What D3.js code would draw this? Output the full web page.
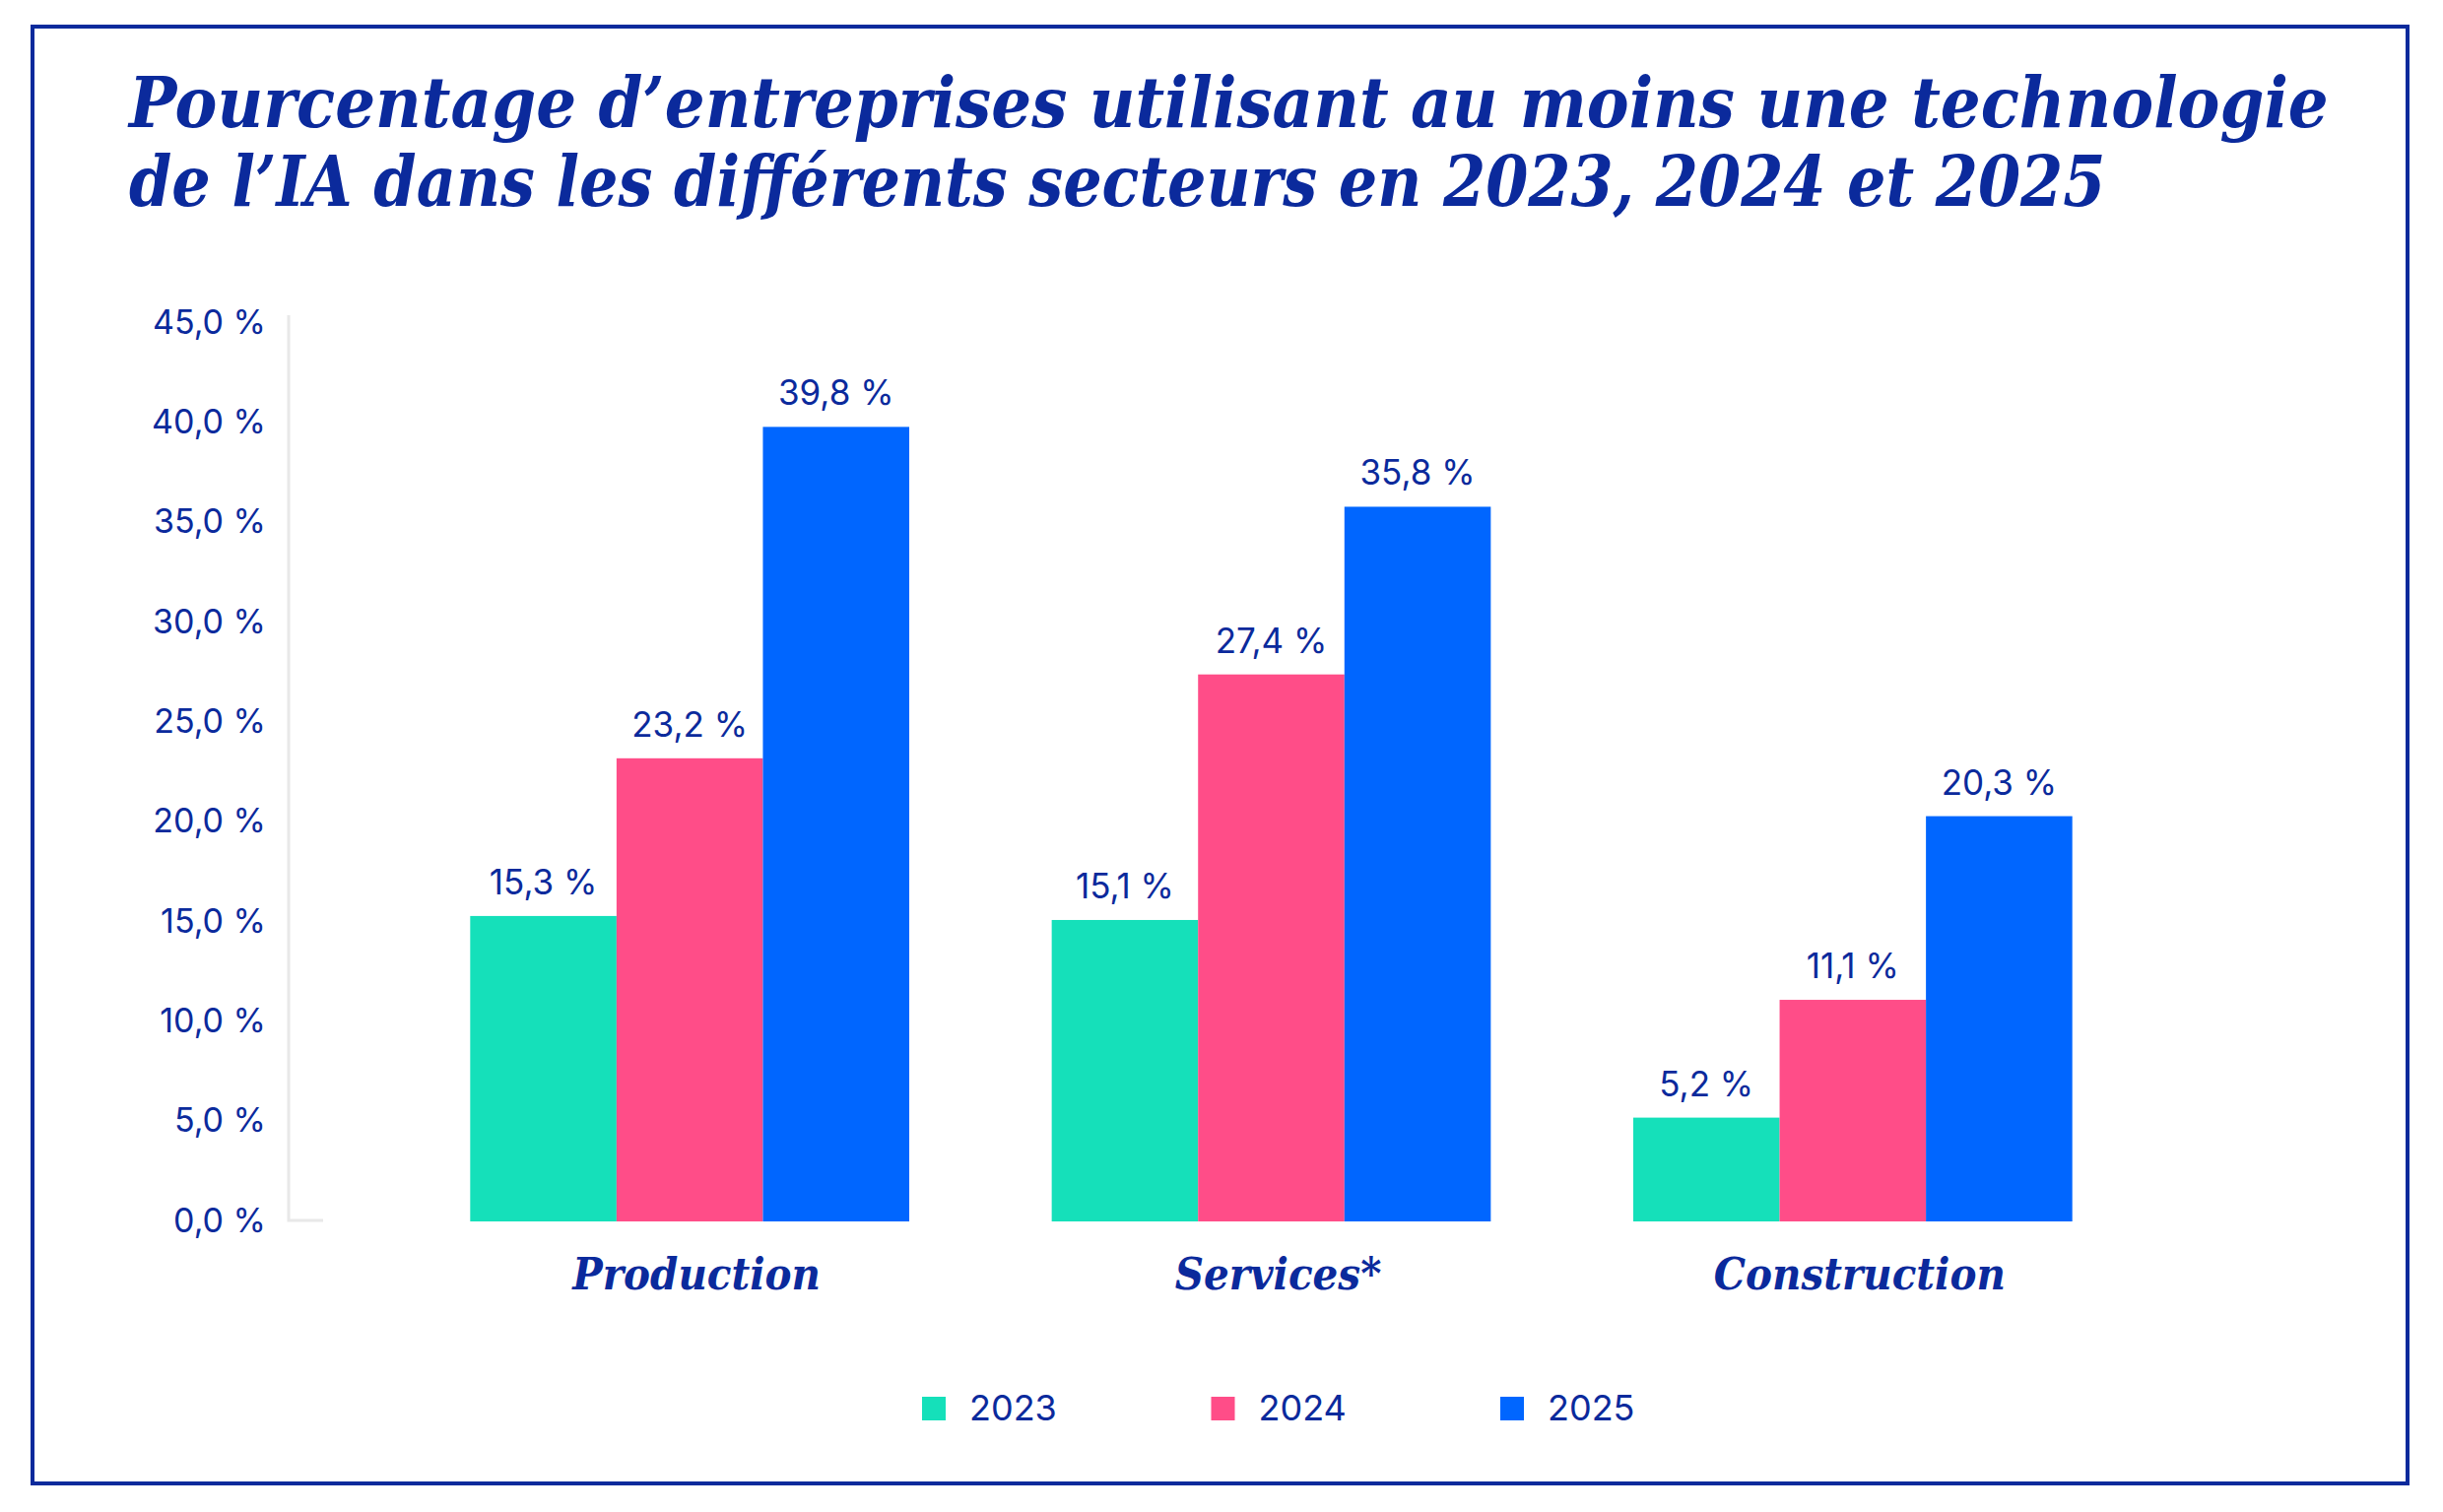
<!DOCTYPE html>
<html>
<head>
<meta charset="utf-8">
<script src="https://cdn.jsdelivr.net/npm/d3@7"></script>
<style>
  body { margin: 0; background: #fff; }
</style>
</head>
<body>
<svg id="svg" width="2480" height="1535"></svg>
<script>
// data
const categories = ['Production', 'Services*', 'Construction'];
const years = ['2023', '2024', '2025'];
const values2023 = [15.3, 15.1, 5.2];
const values2024 = [23.2, 27.4, 11.1];
const values2025 = [39.8, 35.8, 20.3];
const yTicks = [0, 5, 10, 15, 20, 25, 30, 35, 40, 45];
const titleLines = [
    'Pourcentage d\u2019entreprises utilisant au moins une technologie',
    'de l\u2019IA dans les diff\u00e9rents secteurs en 2023, 2024 et 2025'
];

const colors = ['#15e0ba', '#ff4d88', '#0066ff'];
const navy = '#0b2a9c';
const sans = 'Inter, "Noto Sans", sans-serif';
const slab = '"DejaVu Serif", serif';

const series = [values2023, values2024, values2025];
const rows = [];
categories.forEach((c, i) => {
    years.forEach((yr, j) => rows.push({cat: c, year: yr, value: series[j][i]}));
});

const fr = d3.formatLocale({decimal: ',', thousands: ' ', grouping: [3], currency: ['', '']});
const f1 = fr.format('.1f');
const pct = d => f1(d) + '\u00a0%';

const svg = d3.select('#svg');

// squeeze a text horizontally (the original face is narrower than DejaVu)
function squeeze(sel, widthFn, anchorX, baseY) {
    sel.each(function(d, i) {
        const w = this.getComputedTextLength();
        const s = widthFn(d, i, w) / w;
        const ax = anchorX(d, i);
        d3.select(this)
            .attr('x', 0)
            .attr('y', 0)
            .attr('transform', 'translate(' + ax + ',' + baseY(d, i) + ') scale(' + s + ',1)');
    });
}

// frame
svg.append('rect')
    .attr('x', 33)
    .attr('y', 27)
    .attr('width', 2411)
    .attr('height', 1479)
    .style('fill', 'none')
    .style('stroke', navy)
    .style('stroke-width', 4);

// title
const titleWidths = [2233, 2007];
svg.selectAll('.title')
    .data(titleLines)
    .enter().append('text')
    .attr('class', 'title')
    .style('font-family', slab)
    .style('font-weight', 'bold')
    .style('font-style', 'italic')
    .style('font-size', '71px')
    .style('fill', navy)
    .text(d => d)
    .call(squeeze, (d, i) => titleWidths[i], () => 131, (d, i) => 129 + i * 80);

// scales
const x = d3.scaleBand()
    .domain(categories)
    .range([405, 2176])
    .paddingInner(0.245)
    .paddingOuter(0.1225);

const xi = d3.scaleBand()
    .domain(years)
    .range([0, x.bandwidth()]);

const y = d3.scaleLinear()
    .domain([0, 45])
    .range([1240, 328]);

const color = d3.scaleOrdinal().domain(years).range(colors);

// y axis
const yAxis = svg.append('g')
    .attr('transform', 'translate(293,0)')
    .call(d3.axisLeft(y).tickValues(yTicks).tickSize(0).tickPadding(23).tickFormat(pct));
yAxis.select('.domain').remove();
yAxis.selectAll('text')
    .attr('dy', '0.3em')
    .style('font-family', sans)
    .style('font-size', '34px')
    .style('fill', navy);

svg.append('path')
    .attr('d', 'M293,' + (y(45) - 8) + 'V' + (y(0) - 1) + 'H328')
    .style('fill', 'none')
    .style('stroke', '#e8e8e8')
    .style('stroke-width', 3);

// bars
svg.selectAll('.bar')
    .data(rows)
    .enter().append('rect')
    .attr('class', 'bar')
    .attr('x', d => x(d.cat) + xi(d.year))
    .attr('y', d => y(d.value))
    .attr('width', xi.bandwidth())
    .attr('height', d => y(0) - y(d.value))
    .style('fill', d => color(d.year));

// value labels
svg.selectAll('.val')
    .data(rows)
    .enter().append('text')
    .attr('class', 'val')
    .attr('x', d => x(d.cat) + xi(d.year) + xi.bandwidth() / 2)
    .attr('y', d => y(d.value) - 22)
    .attr('text-anchor', 'middle')
    .style('font-family', sans)
    .style('font-size', '35px')
    .style('fill', navy)
    .text(d => pct(d.value));

// category labels
svg.selectAll('.cat')
    .data(categories)
    .enter().append('text')
    .attr('class', 'cat')
    .attr('text-anchor', 'middle')
    .style('font-family', slab)
    .style('font-weight', 'bold')
    .style('font-style', 'italic')
    .style('font-size', '45px')
    .style('fill', navy)
    .text(d => d)
    .call(squeeze, (d, i, w) => w * 0.9, d => x(d) + x.bandwidth() / 2 + 7, () => 1309);

// legend
const lx = d3.scalePoint().domain(years).range([936, 1523]);
const leg = svg.selectAll('.leg')
    .data(years)
    .enter().append('g')
    .attr('class', 'leg')
    .attr('transform', d => 'translate(' + lx(d) + ',1418)');
leg.append('rect')
    .attr('width', 24)
    .attr('height', 24)
    .style('fill', d => color(d));
leg.append('text')
    .attr('x', 48)
    .attr('y', 24)
    .style('font-family', sans)
    .style('font-size', '36px')
    .style('fill', navy)
    .text(d => d);
</script>
</body>
</html>
